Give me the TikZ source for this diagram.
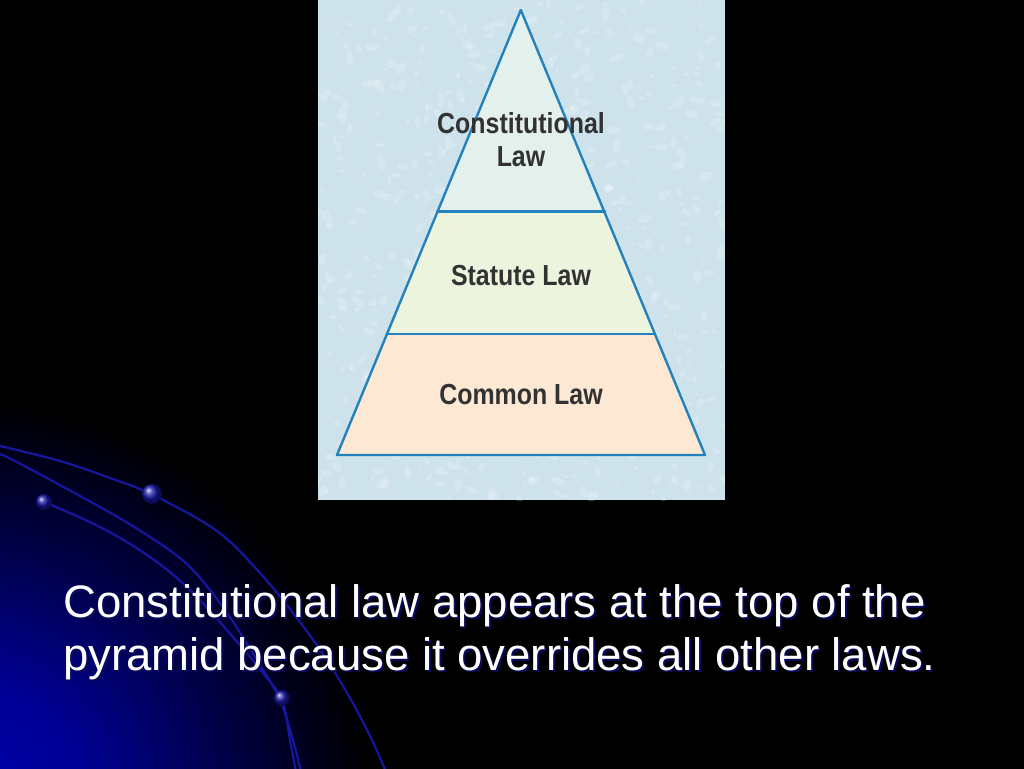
\documentclass[tikz,border=0pt]{standalone}
\usepackage{fontspec}
\setmainfont{Liberation Sans}
\newfontfamily\condfont[FakeStretch=0.86]{Liberation Sans}
\usetikzlibrary{shadings}
\definecolor{glowA}{RGB}{0,0,178}
\definecolor{glowB}{RGB}{0,0,150}
\definecolor{glowC}{RGB}{0,0,70}
\definecolor{arccol}{RGB}{22,22,158}
\definecolor{dotcol}{RGB}{24,24,165}
\definecolor{panelbg}{RGB}{206,226,236}
\definecolor{pyrline}{RGB}{35,130,190}
\definecolor{tierA}{RGB}{228,240,236}
\definecolor{tierB}{RGB}{237,244,222}
\definecolor{tierC}{RGB}{253,232,212}
\definecolor{labelcol}{RGB}{50,50,50}
\definecolor{shadowcol}{RGB}{10,10,90}
\pgfdeclareradialshading{glowshade}{\pgfpoint{0bp}{0bp}}{color(0bp)=(glowA); color(2.2bp)=(glowB); color(4.8bp)=(glowC); color(7.3bp)=(black); color(50bp)=(black)}
\tikzset{
  arc/.style={draw=arccol, line width=2.2pt},
  dotball/.style={ball color=dotcol, draw=none},
  tier/.style={font=\condfont\bfseries\fontsize{29}{33}\selectfont, text=labelcol, anchor=base, inner sep=0pt},
  caption/.style={font=\fontsize{45.5}{53}\selectfont, text=white, anchor=base west, inner sep=0pt},
  capshadow/.style={font=\fontsize{45.5}{53}\selectfont, text=shadowcol, anchor=base west, inner sep=0pt},
  pyr/.style={draw=pyrline, line width=2.4pt, line join=round, line cap=round},
  speck/.style={fill=white, fill opacity=0.2, draw=none}
}
\begin{document}
\begin{tikzpicture}[x=1pt,y=-1pt]
\useasboundingbox (0,0) rectangle (1024,768);
% background
\fill[black] (0,0) rectangle (1024,768);
\begin{scope}
  \clip (0,0) rectangle (1024,768);
  \shade[shading=glowshade] (-40,808) circle (1400pt);
  % decorative arcs
  \draw[arc] plot[smooth, tension=0.6] coordinates {(0,446) (60,461) (110,478) (153,495) (217,531) (260,573) (293,613) (323,654) (350,698) (372,740) (386,772)};
  \draw[arc] plot[smooth, tension=0.6] coordinates {(0,455) (13,460) (100,507) (150,537) (190,567) (227,613) (260,665) (280,700) (293,740) (301,772)};
  \draw[arc] plot[smooth, tension=0.6] coordinates {(44,502) (100,527) (150,557) (190,590) (233,637) (263,673) (282,700) (290,740) (296,772)};
  \shade[dotball] (152,494) circle (10pt);
  \shade[dotball] (44,502) circle (8pt);
  \shade[dotball] (282,698) circle (8pt);
\end{scope}
% panel
\fill[panelbg] (318,0) rectangle (725,500);
\begin{scope}
  \clip (318,0) rectangle (725,500);
  \pgfmathsetseed{7}
  \foreach \i in {1,...,700} {
    \pgfmathsetmacro{\px}{318+407*rnd}
    \pgfmathsetmacro{\py}{500*rnd}
    \pgfmathsetmacro{\pr}{1+3*rnd}
    \pgfmathsetmacro{\pa}{180*rnd}
    \fill[speck, rotate around={\pa:(\px,\py)}] (\px,\py) ellipse ({\pr*1.8} and \pr);
  }
\end{scope}
% pyramid tiers
\fill[tierA] (520.8,10) -- (605,211.5) -- (437.5,211.5) -- cycle;
\fill[tierB] (437.5,211.5) -- (605,211.5) -- (655,334) -- (387,334) -- cycle;
\fill[tierC] (387,334) -- (655,334) -- (705,455) -- (337,455) -- cycle;
\draw[pyr] (520.8,10) -- (705,455) -- (337,455) -- cycle;
\draw[pyr] (437.5,211.5) -- (605,211.5);
\draw[pyr] (387,334) -- (655,334);
% tier labels
\node[tier] (constA) at (521,133) {Constitutional};
\node[tier] (constB) at (521,166) {Law};
\node[tier] (statute) at (521,285) {Statute Law};
\node[tier] (common) at (521,404) {Common Law};
% caption
\node[capshadow] (shA) at (65,619) {Constitutional law appears at the top of the};
\node[capshadow] (shB) at (65,672) {pyramid because it overrides all other laws.};
\node[caption] (capA) at (63,617) {Constitutional law appears at the top of the};
\node[caption] (capB) at (63,670) {pyramid because it overrides all other laws.};
\end{tikzpicture}
\end{document}
